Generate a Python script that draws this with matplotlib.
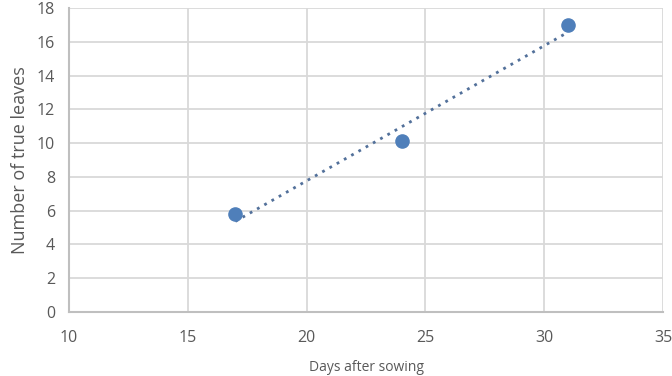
import matplotlib.pyplot as plt
import numpy as np

days = [17, 24, 31]
leaves = [5.8, 10.1, 17.0]
xticks = [10, 15, 20, 25, 30, 35]
yticks = [0, 2, 4, 6, 8, 10, 12, 14, 16, 18]

plt.rcParams['font.family'] = ['Open Sans', 'DejaVu Sans']

fig = plt.figure(figsize=(6.72, 3.76), dpi=100)
ax = fig.add_axes([0.1027, 0.1702, 0.8839, 0.8085])

# linear trendline
k, b = np.polyfit(days, leaves, 1)
tx = np.array([min(days), max(days)])
ax.plot(tx, k * tx + b, linestyle=(0, (1, 2)), color='#52709a', linewidth=2, zorder=2)
ax.scatter(days, leaves, s=90, color='#4f7fba', zorder=3)

ax.set_xlim(10, 35)
ax.set_ylim(0, 18)
ax.set_xticks(xticks)
ax.set_yticks(yticks)
ax.grid(True, color='#d9d9d9', linewidth=1.3)
ax.set_axisbelow(True)
for s in ['top', 'right']:
    ax.spines[s].set_visible(False)
for s in ['left', 'bottom']:
    ax.spines[s].set_color('#bfbfbf')
    ax.spines[s].set_linewidth(1.5)
ax.tick_params(length=0, labelsize=11.5, colors='#595959')
ax.tick_params(axis='x', pad=13)
ax.tick_params(axis='y', pad=10)
ax.set_xlabel('Days after sowing', fontsize=10, color='#595959', labelpad=10)
ax.set_ylabel('Number of true leaves', fontsize=13, color='#595959', labelpad=6)

fig.savefig('out.png', dpi=100)
